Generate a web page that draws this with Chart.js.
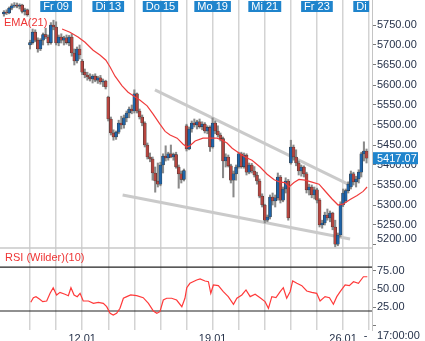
<!DOCTYPE html>
<html>
<head>
<meta charset="utf-8">
<title>Hourly chart</title>
<script src="https://cdn.jsdelivr.net/npm/chart.js@4/dist/chart.umd.min.js"></script>
<style>
  html, body { margin: 0; padding: 0; background: #fff; }
  #wrap { width: 425px; height: 341px; }
</style>
</head>
<body>
<div id="wrap"><canvas id="chart" width="425" height="341"></canvas></div>
<script>
// Hourly bars, 10 per session. Bar index 0 = first bar of Thu 08.01
const firstIndex = -10;

const opens = [
  5778, 5782, 5780, 5792, 5798, 5800, 5797, 5800, 5784, 5788, // Wed 07
  5700, 5706, 5732, 5712, 5690, 5712, 5726, 5720, 5706, 5750, // Thu 08
  5745, 5705, 5720, 5712, 5718, 5706, 5720, 5680, 5660, 5690, // Fri 09
  5660, 5632, 5625, 5620, 5615, 5622, 5612, 5618, 5608, 5610, // Mon 12
  5570, 5515, 5480, 5470, 5482, 5505, 5500, 5518, 5530, 5540, // Tue 13
  5535, 5578, 5535, 5520, 5505, 5450, 5420, 5415, 5380, 5360, // Wed 14
  5352, 5400, 5422, 5418, 5428, 5420, 5426, 5395, 5378, 5364, // Thu 15
  5498, 5440, 5490, 5505, 5500, 5508, 5496, 5502, 5485, 5494, // Fri 16
  5445, 5505, 5485, 5475, 5466, 5410, 5420, 5398, 5362, 5378, // Mon 19
  5395, 5428, 5396, 5425, 5382, 5400, 5385, 5375, 5360, 5322, // Tue 20
  5300, 5262, 5270, 5320, 5310, 5318, 5370, 5312, 5340, 5360, // Wed 21
  5405, 5445, 5420, 5405, 5385, 5395, 5378, 5338, 5345, 5325, // Thu 22
  5338, 5312, 5250, 5255, 5275, 5268, 5280, 5245, 5202, 5225, // Fri 23
  5300, 5310, 5336, 5345, 5378, 5358, 5365, 5382, 5428, 5435  // Mon 26
];
const highs = [
  5786, 5788, 5795, 5803, 5806, 5805, 5803, 5802, 5792, 5790,
  5712, 5740, 5738, 5718, 5716, 5730, 5742, 5725, 5756, 5762,
  5758, 5725, 5728, 5722, 5725, 5724, 5728, 5690, 5695, 5700,
  5664, 5640, 5632, 5628, 5626, 5628, 5622, 5624, 5615, 5612,
  5572, 5520, 5488, 5485, 5512, 5522, 5525, 5535, 5545, 5550,
  5588, 5580, 5540, 5525, 5508, 5455, 5430, 5420, 5395, 5405,
  5407, 5428, 5448, 5432, 5450, 5430, 5432, 5400, 5385, 5390,
  5502, 5495, 5510, 5515, 5512, 5515, 5508, 5506, 5498, 5498,
  5518, 5510, 5498, 5480, 5470, 5428, 5425, 5402, 5385, 5400,
  5432, 5432, 5430, 5428, 5405, 5404, 5396, 5382, 5365, 5328,
  5302, 5275, 5325, 5330, 5325, 5380, 5374, 5345, 5368, 5364,
  5462, 5450, 5438, 5410, 5400, 5398, 5382, 5352, 5350, 5345,
  5342, 5316, 5262, 5282, 5290, 5285, 5282, 5262, 5230, 5308,
  5340, 5340, 5358, 5385, 5382, 5372, 5388, 5432, 5458, 5440
];
const lows = [
  5772, 5776, 5778, 5788, 5794, 5793, 5790, 5780, 5775, 5772,
  5690, 5702, 5708, 5682, 5686, 5700, 5716, 5700, 5702, 5738,
  5700, 5698, 5705, 5700, 5702, 5698, 5672, 5650, 5655, 5665,
  5626, 5618, 5612, 5610, 5605, 5608, 5604, 5602, 5596, 5590,
  5510, 5475, 5462, 5464, 5478, 5490, 5492, 5508, 5518, 5528,
  5530, 5530, 5515, 5498, 5445, 5415, 5408, 5362, 5332, 5345,
  5348, 5380, 5410, 5412, 5418, 5412, 5392, 5342, 5355, 5360,
  5435, 5438, 5482, 5495, 5490, 5492, 5488, 5480, 5478, 5434,
  5442, 5478, 5470, 5460, 5368, 5395, 5395, 5355, 5320, 5362,
  5392, 5392, 5392, 5375, 5378, 5380, 5370, 5352, 5318, 5295,
  5255, 5258, 5265, 5300, 5295, 5312, 5305, 5308, 5330, 5262,
  5402, 5412, 5398, 5375, 5372, 5370, 5330, 5325, 5318, 5315,
  5305, 5245, 5242, 5250, 5262, 5258, 5238, 5195, 5198, 5220,
  5296, 5306, 5330, 5340, 5350, 5345, 5355, 5370, 5410, 5405
];
const closes = [
  5782, 5780, 5792, 5798, 5800, 5797, 5800, 5784, 5788, 5776,
  5706, 5732, 5712, 5690, 5712, 5726, 5720, 5706, 5750, 5745,
  5705, 5720, 5712, 5718, 5706, 5720, 5680, 5660, 5690, 5675,
  5632, 5625, 5620, 5615, 5622, 5612, 5618, 5608, 5610, 5595,
  5515, 5480, 5470, 5482, 5505, 5500, 5518, 5530, 5540, 5535,
  5578, 5535, 5520, 5505, 5450, 5420, 5415, 5380, 5360, 5352,
  5400, 5422, 5418, 5428, 5420, 5426, 5395, 5378, 5364, 5386,
  5440, 5490, 5505, 5500, 5508, 5496, 5502, 5485, 5494, 5445,
  5505, 5485, 5475, 5466, 5410, 5420, 5398, 5362, 5378, 5395,
  5428, 5396, 5425, 5382, 5400, 5385, 5375, 5360, 5322, 5300,
  5262, 5270, 5320, 5310, 5318, 5370, 5312, 5340, 5360, 5268,
  5445, 5420, 5405, 5385, 5395, 5378, 5338, 5345, 5325, 5338,
  5312, 5250, 5255, 5275, 5268, 5280, 5245, 5202, 5225, 5302,
  5330, 5336, 5352, 5378, 5358, 5365, 5382, 5428, 5435, 5417.07
];

// EMA(21) of the closes, sampled along the bars
const emaAt = [12.3, 15.3, 18.4, 21.1, 24.2, 26.8, 29.1, 30.7, 32.6, 35.3, 37.6, 40.3, 42.2, 44.9, 47.2,
  49.8, 51.8, 53.7, 56.4, 58.7, 60.2, 61.3, 63.3, 66.3, 69, 71.7, 73.6, 75.5, 77.5, 80.1, 82.4, 85.1,
  88.2, 90.9, 93.6, 95.9, 97.8, 99.3, 101.2, 103.1, 105.4, 108.1, 110.8, 113.1, 115.8, 118.1, 120,
  122.7, 125.4, 127.7, 129.2];
const emaValues = [5740, 5732, 5720, 5707, 5687, 5675, 5662, 5645, 5622, 5598, 5582, 5570, 5562, 5548, 5527,
  5502, 5484, 5475, 5467, 5452, 5445, 5448, 5460, 5467, 5467, 5467, 5462, 5455, 5442, 5430, 5420, 5412,
  5395, 5377, 5363, 5357, 5356, 5345, 5356, 5364, 5362, 5357, 5352, 5335, 5315, 5300, 5302,
  5314, 5324, 5334, 5345];

// RSI (Wilder, 10)
const rsiAt = [0.3, 1.3, 2.3, 3.6, 4.9, 6.4, 7.7, 8.9, 10.2, 11.5, 13.4, 14.7, 15.7, 16.9, 18.1, 19.2,
  20.4, 22.4, 24.3, 26.2, 28.1, 29.4, 30.7, 31.9, 33.2, 34.5, 35.8, 37.1, 38.6, 40.9, 43.4, 45.4, 47.3,
  48.6, 49.8, 51.1, 52.4, 54.3, 56.2, 58.2, 59.4, 60.1, 61.3, 63.9, 65.2, 67.1, 68.4, 69.3, 70.3, 72.2,
  74.1, 76, 78, 79.3, 81.2, 82.8, 84.4, 86.3, 88.2, 90.1, 91.4, 92.7, 94.3, 95.9, 97.1, 98.4, 99.7,
  100.7, 102.3, 104.2, 106.1, 108, 109.9, 111.2, 113.1, 114.8, 116.3, 117.6, 118.9, 120.8, 122.4, 124,
  125.9, 127.8, 129.3];
const rsiValues = [31.9, 38.2, 39.6, 36.4, 32.8, 33.7, 44.2, 51.8, 41.9, 45.5, 42.8, 40.9, 51.8, 41.9, 39.6, 44.2,
  33.7, 33.7, 30.5, 31.9, 30.5, 25.9, 16.9, 14.6, 16.9, 23.7, 37.4, 39.6, 41.9, 40.9, 38.2, 30.5, 20,
  16.9, 19.1, 35, 37.4, 37.4, 35, 25.9, 37.4, 51.8, 57.8, 62.3, 63.7, 61, 60, 44.2, 55.5, 54.6,
  46.4, 39.6, 29.2, 37.4, 41.9, 48.7, 39.6, 42.8, 38.2, 32.8, 23.7, 39.6, 38.2, 46.4, 51.8, 37.4, 46.4,
  61, 57.8, 54.6, 47.3, 45.5, 44.2, 33.7, 39.6, 38.2, 29.2, 39.6, 46.4, 55.5, 54.6, 60,
  57.8, 66.8, 66.8];
const rsiLevels = [80, 20];

// hand-drawn channel lines
const upperLineAt = [47.9, 121.9];
const upperLineValues = [5588, 5352];
const lowerLineAt = [35.5, 122.7];
const lowerLineValues = [5325, 5215];

// axes
const xMin = -11.5, xMax = 131.1;
const dayStarts = [0, 10, 20, 30, 40, 50, 60, 70, 80, 90, 100, 110, 120, 130];
const weekStarts = [20, 70, 120];
const weekLabels = ["12.01", "19.01", "26.01"];
const tagStarts = [10, 30, 50, 70, 90, 110, 130];
const tagLabels = ["Fr 09", "Di 13", "Do 15", "Mo 19", "Mi 21", "Fr 23", "Di 27"];
const priceTicks = [5200, 5250, 5300, 5350, 5400, 5450, 5500, 5550, 5600, 5650, 5700, 5750];
const priceMin = 5192.5, priceMax = 5812.5;
const rsiTicks = [0, 25, 50, 75];
const rsiMin = -5.9, rsiMax = 106;
const lastStamp = "17:00:00";

const FONT = "'Liberation Sans', Arial, sans-serif";
const textColor = "#26324a";
const upColor = "#1f64a8";
const downColor = "#b5453f";
const tagBlue = "#1f84cc";

// no extra room for the end labels, the panes fill the canvas
function noPadding(s) {
  s.paddingTop = 0;
  s.paddingBottom = 0;
  s.paddingLeft = 0;
  s.paddingRight = 0;
}

document.addEventListener("DOMContentLoaded", () => {
  const ctx = document.getElementById("chart").getContext("2d");

  const barX = opens.map((_, i) => firstIndex + i);
  const bodyColors = opens.map((o, i) => closes[i] >= o ? upColor : downColor);
  const pairs = (xs, ys) => xs.map((x, i) => ({ x, y: ys[i] }));

  // labels, date tags, price tag and pane divider
  const overlays = {
    id: "overlays",
    beforeDraw(chart) {
      // keep the lowest price label inside the upper pane
      const ys = chart.scales.y;
      const items = ys.getLabelItems ? ys.getLabelItems(chart.chartArea) : [];
      items.forEach(it => {
        if (it.label === priceTicks[0].toFixed(2) && it.options && it.options.translation) {
          it.options.translation[1] -= 6;
        }
      });
    },
    afterDatasetsDraw(chart) {
      const c = chart.ctx;
      const area = chart.chartArea;
      const xs = chart.scales.x;
      const ys = chart.scales.y;

      // pane divider
      c.save();
      c.strokeStyle = "#c8c8c8";
      c.lineWidth = 1.5;
      c.beginPath();
      c.moveTo(area.left, ys.bottom);
      c.lineTo(area.right, ys.bottom);
      c.stroke();

      // day tags along the top, cut off at the last session line
      const tagRight = xs.getPixelForValue(dayStarts[dayStarts.length - 1]);
      c.beginPath();
      c.rect(area.left, area.top, tagRight - area.left, area.bottom - area.top);
      c.clip();
      c.font = "11px " + FONT;
      c.textAlign = "center";
      c.textBaseline = "middle";
      tagStarts.forEach((v, i) => {
        const px = xs.getPixelForValue(v);
        const w = c.measureText(tagLabels[i]).width + 6;
        c.fillStyle = tagBlue;
        c.fillRect(px - w / 2, 1, w, 11);
        c.fillStyle = "#fff";
        c.fillText(tagLabels[i], px, 7);
      });

      // indicator names
      c.textAlign = "left";
      c.fillStyle = "#ee3535";
      c.fillText("EMA(21)", 4, 23);
      c.fillText("RSI (Wilder)(10)", 5, chart.scales.rsi.top + 10);
      c.restore();
    },
    afterDraw(chart) {
      const c = chart.ctx;
      const ys = chart.scales.y;
      const xs = chart.scales.x;
      const last = closes[closes.length - 1];
      const py = ys.getPixelForValue(last);

      c.save();
      c.font = "11px " + FONT;
      c.textBaseline = "middle";
      c.fillStyle = tagBlue;
      c.fillRect(ys.left + 1, py - 6, 45, 12);
      c.fillStyle = "#fff";
      c.textAlign = "left";
      c.fillText(last.toFixed(2), ys.left + 5, py + 0.5);

      // time of the last bar
      c.fillStyle = textColor;
      c.textAlign = "center";
      c.fillText("-", xs.getPixelForValue(barX[barX.length - 1]) - 1, xs.top + 6);
      c.textAlign = "left";
      c.fillText(lastStamp, ys.left + 5, xs.top + 6);
      c.restore();
    }
  };

  new Chart(ctx, {
    type: "bar",
    data: {
      datasets: [
        {
          type: "line", label: "upper", yAxisID: "y", order: 6,
          data: pairs(upperLineAt, upperLineValues),
          borderColor: "#cacaca", borderWidth: 3, pointRadius: 0
        },
        {
          type: "line", label: "lower", yAxisID: "y", order: 6,
          data: pairs(lowerLineAt, lowerLineValues),
          borderColor: "#cacaca", borderWidth: 3, pointRadius: 0
        },
        {
          label: "wicks", yAxisID: "y", order: 4, grouped: false,
          data: barX.map((x, i) => ({ x, y: [lows[i], highs[i]] })),
          backgroundColor: "#8a8a8a", barThickness: 1.4
        },
        {
          label: "bodies", yAxisID: "y", order: 3, grouped: false,
          data: barX.map((x, i) => ({ x, y: [opens[i], closes[i]] })),
          backgroundColor: bodyColors, borderColor: "#303030", borderWidth: 0.5,
          borderSkipped: false, barThickness: 3
        },
        {
          type: "line", label: "EMA(21)", yAxisID: "y", order: 2,
          data: pairs(emaAt, emaValues),
          borderColor: "#f03c3c", borderWidth: 1.2, pointRadius: 0
        },
        {
          type: "line", label: "RSI 80", yAxisID: "rsi", order: 2,
          data: [{ x: xMin, y: rsiLevels[0] }, { x: xMax, y: rsiLevels[0] }],
          borderColor: "#222", borderWidth: 1.2, pointRadius: 0
        },
        {
          type: "line", label: "RSI 20", yAxisID: "rsi", order: 2,
          data: [{ x: xMin, y: rsiLevels[1] }, { x: xMax, y: rsiLevels[1] }],
          borderColor: "#222", borderWidth: 1.2, pointRadius: 0
        },
        {
          type: "line", label: "RSI", yAxisID: "rsi", order: 1,
          data: pairs(rsiAt, rsiValues),
          borderColor: "#ff3a3a", borderWidth: 1.2, pointRadius: 0
        }
      ]
    },
    options: {
      responsive: false,
      animation: false,
      devicePixelRatio: 1,
      layout: { padding: 0 },
      plugins: { legend: { display: false }, tooltip: { enabled: false } },
      scales: {
        x: {
          type: "linear", min: xMin, max: xMax, offset: false,
          grid: { color: "#d3d3d3", lineWidth: 1.5, offset: false, drawTicks: false },
          border: { display: false },
          ticks: {
            autoSkip: false, maxRotation: 0, padding: 2, color: textColor,
            font: { family: FONT, size: 11 },
            callback: v => {
              const k = weekStarts.indexOf(v);
              return k >= 0 ? weekLabels[k] : "";
            }
          },
          afterBuildTicks: s => { s.ticks = dayStarts.map(v => ({ value: v })); },
          afterFit: s => { s.height = 11; noPadding(s); }
        },
        y: {
          position: "right", stack: "panes", stackWeight: 248,
          min: priceMin, max: priceMax,
          grid: { drawOnChartArea: false, drawTicks: true, tickLength: 4, color: "#7a7a7a" },
          border: { color: "#c4c4c4" },
          ticks: {
            autoSkip: false, padding: 1, color: textColor,
            font: { family: FONT, size: 11 }, callback: v => v.toFixed(2)
          },
          afterBuildTicks: s => { s.ticks = priceTicks.map(v => ({ value: v })); },
          afterFit: s => { s.width = 53; noPadding(s); }
        },
        rsi: {
          position: "right", stack: "panes", stackWeight: 82,
          min: rsiMin, max: rsiMax,
          grid: { drawOnChartArea: false, drawTicks: true, tickLength: 4, color: "#7a7a7a" },
          border: { color: "#c4c4c4" },
          ticks: {
            autoSkip: false, padding: 1, color: textColor, font: { family: FONT, size: 11 },
            callback: v => v === 0 ? "" : v.toFixed(2)
          },
          afterBuildTicks: s => { s.ticks = rsiTicks.map(v => ({ value: v })); },
          afterFit: s => { s.width = 53; noPadding(s); }
        }
      }
    },
    plugins: [overlays]
  });
});
</script>
</body>
</html>
